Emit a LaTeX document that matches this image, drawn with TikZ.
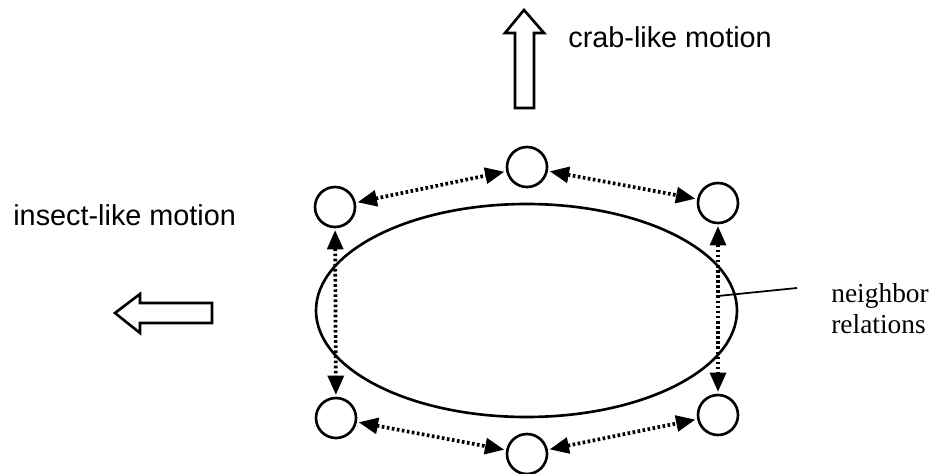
\documentclass[tikz,border=0pt]{standalone}
\usepackage{fontspec}
\setmainfont{Liberation Serif}
\newfontfamily\arialfont{Liberation Sans}
\usetikzlibrary{arrows.meta}

\begin{document}
\begin{tikzpicture}[x=0.2mm,y=-0.2mm,
robot/.style={circle,draw=black,line width=1.5pt,minimum size=8mm,inner sep=0pt},
relation/.style={{Triangle[length=11pt,width=9pt]}-{Triangle[length=11pt,width=9pt]},line width=2.1pt,dash pattern=on 1.5pt off 1.4pt,shorten <=1pt,shorten >=1pt},
blockarrow/.style={draw=black,line width=1.5pt,line join=miter},
motion/.style={font=\arialfont\fontsize{16.4}{19}\selectfont,inner sep=0pt},
label/.style={font=\fontsize{15.6}{17.6}\selectfont,inner sep=0pt,align=left}]

\useasboundingbox (0,0) rectangle (936,474);

% Body
\draw[line width=1.5pt] (526.5,310.5) ellipse (210.5 and 106.5);

% Legs
\node[robot] (topL) at (335,207) {};
\node[robot] (topM) at (527,167) {};
\node[robot] (topR) at (718,203) {};
\node[robot] (botL) at (336,418) {};
\node[robot] (botM) at (527,454) {};
\node[robot] (botR) at (718,415) {};

% Neighbor relations
\draw[relation] (topL) -- (topM);
\draw[relation] (topM) -- (topR);
\draw[relation] (botL) -- (botM);
\draw[relation] (botM) -- (botR);
\draw[relation] (topL) -- (botL);
\draw[relation] (topR) -- (botR);

\coordinate (relA) at (718,296);
\coordinate (relB) at (797,288);
\draw[line width=1pt] (relA) -- (relB);
\node[label,anchor=base west] (relText) at (831,333) {neighbor\\relations};

% Crab-like motion
\draw[blockarrow] (524,10) -- (544,33) -- (534,33) -- (534,108) -- (515,108) -- (515,33) -- (505,33) -- cycle;
\node[motion,anchor=base west] (crab) at (568,47) {crab-like motion};

% Insect-like motion
\draw[blockarrow] (115,313) -- (140,294) -- (140,303) -- (212,303) -- (212,323) -- (140,323) -- (140,333) -- cycle;
\node[motion,anchor=base west] (insect) at (13,225) {insect-like motion};

\end{tikzpicture}
\end{document}
